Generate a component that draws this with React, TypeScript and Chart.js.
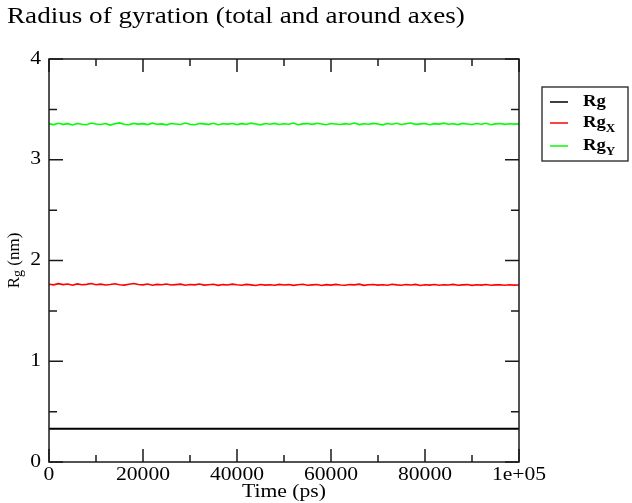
import React, { useEffect, useRef } from "react";
import { Chart, registerables } from "chart.js";
Chart.register(...registerables);

const TITLE = "Radius of gyration (total and around axes)";
const X_TITLE = "Time (ps)";
const Y_TITLE_MAIN = "R";
const Y_TITLE_SUB = "g";
const Y_TITLE_REST = " (nm)";

const TIME = [
  0, 1000, 2000, 3000, 4000, 5000, 6000, 7000, 8000, 9000,
  10000, 11000, 12000, 13000, 14000, 15000, 16000, 17000, 18000, 19000,
  20000, 21000, 22000, 23000, 24000, 25000, 26000, 27000, 28000, 29000,
  30000, 31000, 32000, 33000, 34000, 35000, 36000, 37000, 38000, 39000,
  40000, 41000, 42000, 43000, 44000, 45000, 46000, 47000, 48000, 49000,
  50000, 51000, 52000, 53000, 54000, 55000, 56000, 57000, 58000, 59000,
  60000, 61000, 62000, 63000, 64000, 65000, 66000, 67000, 68000, 69000,
  70000, 71000, 72000, 73000, 74000, 75000, 76000, 77000, 78000, 79000,
  80000, 81000, 82000, 83000, 84000, 85000, 86000, 87000, 88000, 89000,
  90000, 91000, 92000, 93000, 94000, 95000, 96000, 97000, 98000, 99000,
  100000,
];

const RG = [
  0.330, 0.330, 0.331, 0.330, 0.330, 0.329, 0.330, 0.330, 0.331, 0.330,
  0.330, 0.330, 0.329, 0.330, 0.330, 0.331, 0.330, 0.330, 0.330, 0.329,
  0.330, 0.331, 0.330, 0.330, 0.330, 0.329, 0.330, 0.330, 0.331, 0.330,
  0.330, 0.329, 0.330, 0.330, 0.331, 0.330, 0.330, 0.330, 0.329, 0.330,
  0.330, 0.331, 0.330, 0.330, 0.329, 0.330, 0.330, 0.330, 0.331, 0.330,
  0.330, 0.329, 0.330, 0.330, 0.331, 0.330, 0.330, 0.330, 0.329, 0.330,
  0.331, 0.330, 0.330, 0.330, 0.329, 0.330, 0.330, 0.331, 0.330, 0.330,
  0.330, 0.329, 0.330, 0.331, 0.330, 0.330, 0.330, 0.329, 0.330, 0.330,
  0.331, 0.330, 0.330, 0.329, 0.330, 0.330, 0.331, 0.330, 0.330, 0.330,
  0.329, 0.330, 0.330, 0.331, 0.330, 0.330, 0.329, 0.330, 0.330, 0.331,
  0.330,
];

const RG_X = [
  1.764, 1.758, 1.770, 1.761, 1.766, 1.755, 1.768, 1.760, 1.763, 1.771,
  1.759, 1.765, 1.757, 1.762, 1.769, 1.760, 1.756, 1.764, 1.772, 1.761,
  1.758, 1.766, 1.755, 1.763, 1.759, 1.767, 1.757, 1.761, 1.765, 1.754,
  1.762, 1.758, 1.766, 1.756, 1.760, 1.764, 1.753, 1.761, 1.757, 1.765,
  1.759, 1.755, 1.763, 1.758, 1.752, 1.762, 1.756, 1.760, 1.754, 1.763,
  1.757, 1.761, 1.753, 1.759, 1.764, 1.755, 1.758, 1.762, 1.752, 1.760,
  1.756, 1.763, 1.757, 1.754, 1.761, 1.758, 1.765, 1.753, 1.759, 1.762,
  1.756, 1.760, 1.754, 1.764, 1.758, 1.755, 1.761, 1.757, 1.763, 1.752,
  1.759, 1.756, 1.762, 1.754, 1.760, 1.757, 1.763, 1.755, 1.758, 1.761,
  1.753, 1.759, 1.756, 1.762, 1.754, 1.758, 1.760, 1.755, 1.759, 1.756,
  1.757,
];

const RG_Y = [
  3.356, 3.349, 3.362, 3.351, 3.358, 3.345, 3.360, 3.353, 3.348, 3.364,
  3.355, 3.350, 3.359, 3.344, 3.357, 3.366, 3.352, 3.347, 3.361, 3.354,
  3.358, 3.349, 3.363, 3.352, 3.356, 3.346, 3.360, 3.355, 3.350, 3.365,
  3.353, 3.348, 3.359, 3.356, 3.351, 3.362, 3.347, 3.357, 3.354, 3.360,
  3.349, 3.358, 3.352, 3.363, 3.355, 3.346, 3.359, 3.353, 3.361, 3.350,
  3.357, 3.352, 3.364, 3.348, 3.356, 3.359, 3.351, 3.362, 3.354, 3.347,
  3.360, 3.355, 3.350, 3.358, 3.353, 3.365, 3.349, 3.357, 3.352, 3.361,
  3.355, 3.346, 3.359, 3.353, 3.362, 3.350, 3.357, 3.364, 3.351, 3.356,
  3.360, 3.348, 3.358, 3.354, 3.363, 3.352, 3.357, 3.349, 3.361, 3.355,
  3.350, 3.359, 3.353, 3.362, 3.348, 3.356, 3.360, 3.351, 3.357, 3.354,
  3.356,
];

const X_MAJOR = [0, 20000, 40000, 60000, 80000, 100000];
const X_MINOR = [10000, 30000, 50000, 70000, 90000];
const X_TICK_LABELS = ["0", "20000", "40000", "60000", "80000", "1e+05"];
const Y_MAJOR = [0, 1, 2, 3, 4];
const Y_MINOR = [0.5, 1.5, 2.5, 3.5];
const Y_TICK_LABELS = ["0", "1", "2", "3", "4"];

const LEGEND = [
  { main: "Rg", sub: "", color: "#000000" },
  { main: "Rg", sub: "X", color: "#ff0000" },
  { main: "Rg", sub: "Y", color: "#00ff00" },
];

const SERIF = "'Liberation Serif', 'DejaVu Serif', serif";

function stext(ctx: CanvasRenderingContext2D, text: string, x: number, y: number, font: string, align: string, sx: number) {
  ctx.save();
  ctx.font = font;
  const w = ctx.measureText(text).width * sx;
  const lx = align === "center" ? x - w / 2 : align === "right" ? x - w : x;
  ctx.translate(lx, y);
  ctx.scale(sx, 1);
  ctx.textAlign = "left";
  ctx.fillText(text, 0, 0);
  ctx.restore();
  return w;
}

const decorPlugin = {
  id: "decor",
  afterDraw(chart: any) {
    const { ctx, chartArea } = chart;
    const { left, right, top, bottom } = chartArea;
    const xs = chart.scales.x;
    const ys = chart.scales.y;
    ctx.save();
    ctx.strokeStyle = "#1a1a1a";
    ctx.lineWidth = 1.5;
    ctx.strokeRect(left, top, right - left, bottom - top);
    ctx.beginPath();
    const tick = (list: number[], len: number) => {
      list.forEach((v) => {
        const px = xs.getPixelForValue(v);
        ctx.moveTo(px, bottom);
        ctx.lineTo(px, bottom - len);
        ctx.moveTo(px, top);
        ctx.lineTo(px, top + len);
      });
    };
    const ytick = (list: number[], len: number) => {
      list.forEach((v) => {
        const py = ys.getPixelForValue(v);
        ctx.moveTo(left, py);
        ctx.lineTo(left + len, py);
        ctx.moveTo(right, py);
        ctx.lineTo(right - len, py);
      });
    };
    tick(X_MAJOR, 13);
    tick(X_MINOR, 7);
    ytick(Y_MAJOR, 14);
    ytick(Y_MINOR, 8);
    ctx.stroke();

    ctx.fillStyle = "#000";
    ctx.textBaseline = "middle";
    // tick labels
    X_MAJOR.forEach((v, i) => {
      stext(ctx, X_TICK_LABELS[i], xs.getPixelForValue(v), bottom + 13, `18px ${SERIF}`, "center", 1.2);
    });
    Y_MAJOR.forEach((v, i) => {
      stext(ctx, Y_TICK_LABELS[i], 41, ys.getPixelForValue(v), `18px ${SERIF}`, "right", 1.2);
    });

    // title
    ctx.textBaseline = "alphabetic";
    stext(ctx, TITLE, 7, 23, `24px ${SERIF}`, "left", 1.13);

    // x title
    ctx.textBaseline = "middle";
    stext(ctx, X_TITLE, (left + right) / 2, 492, `18px ${SERIF}`, "center", 1.2);

    // y title rotated
    ctx.save();
    ctx.translate(19, (top + bottom) / 2);
    ctx.rotate(-Math.PI / 2);
    ctx.textBaseline = "alphabetic";
    ctx.font = `17px ${SERIF}`;
    const wMain = ctx.measureText(Y_TITLE_MAIN).width;
    ctx.font = `14px ${SERIF}`;
    const wSub = ctx.measureText(Y_TITLE_SUB).width;
    ctx.font = `17px ${SERIF}`;
    const wRest = ctx.measureText(Y_TITLE_REST).width;
    let x0 = -(wMain + wSub + wRest) / 2;
    ctx.textAlign = "left";
    ctx.fillText(Y_TITLE_MAIN, x0, 0);
    x0 += wMain;
    ctx.font = `14px ${SERIF}`;
    ctx.fillText(Y_TITLE_SUB, x0, 3);
    x0 += wSub;
    ctx.font = `17px ${SERIF}`;
    ctx.fillText(Y_TITLE_REST, x0, 0);
    ctx.restore();

    // legend
    const bx = 542, by = 87, bw = 86, bh = 74;
    ctx.lineWidth = 1.3;
    ctx.strokeStyle = "#222";
    ctx.strokeRect(bx, by, bw, bh);
    const rows = [102, 123, 146];
    LEGEND.forEach((item, i) => {
      const y = rows[i];
      ctx.strokeStyle = item.color;
      ctx.lineWidth = 1.5;
      ctx.beginPath();
      ctx.moveTo(550, y);
      ctx.lineTo(568, y);
      ctx.stroke();
      ctx.fillStyle = "#000";
      ctx.textBaseline = "middle";
      const w = stext(ctx, item.main, 583, y, `bold 17px ${SERIF}`, "left", 1.1);
      if (item.sub) {
        stext(ctx, item.sub, 583 + w, y + 6, `bold 12px ${SERIF}`, "left", 1.1);
      }
    });
    ctx.restore();
  },
};

export default function App() {
  const ref = useRef<HTMLCanvasElement>(null);
  useEffect(() => {
    document.body.style.margin = "0";
    const mk = (vals: number[]) => TIME.map((t, i) => ({ x: t, y: vals[i] }));
    const chart = new Chart(ref.current!, {
      type: "line",
      data: {
        datasets: [
          { label: "Rg", data: mk(RG), borderColor: "#000000", borderWidth: 2, pointRadius: 0, tension: 0 },
          { label: "RgX", data: mk(RG_X), borderColor: "#ff0000", borderWidth: 1.6, pointRadius: 0, tension: 0 },
          { label: "RgY", data: mk(RG_Y), borderColor: "#00ff00", borderWidth: 1.6, pointRadius: 0, tension: 0 },
        ],
      },
      options: {
        responsive: false,
        animation: false,
        layout: { padding: { left: 0, top: 59, right: 113, bottom: 0 } },
        plugins: { legend: { display: false }, tooltip: { enabled: false }, title: { display: false } },
        scales: {
          x: {
            type: "linear",
            min: 0,
            max: 100000,
            grid: { display: false, drawTicks: false },
            border: { display: false },
            ticks: { display: false },
            afterFit: (s: any) => { s.height = 41; },
          },
          y: {
            type: "linear",
            min: 0,
            max: 4,
            grid: { display: false, drawTicks: false },
            border: { display: false },
            ticks: { display: false },
            afterFit: (s: any) => { s.width = 49; },
          },
        },
      },
      plugins: [decorPlugin],
    } as any);
    return () => chart.destroy();
  }, []);
  return (
    <div style={{ position: "absolute", left: 0, top: 0, width: 632, height: 503, background: "#fff" }}>
      <canvas ref={ref} width={632} height={503} />
    </div>
  );
}
